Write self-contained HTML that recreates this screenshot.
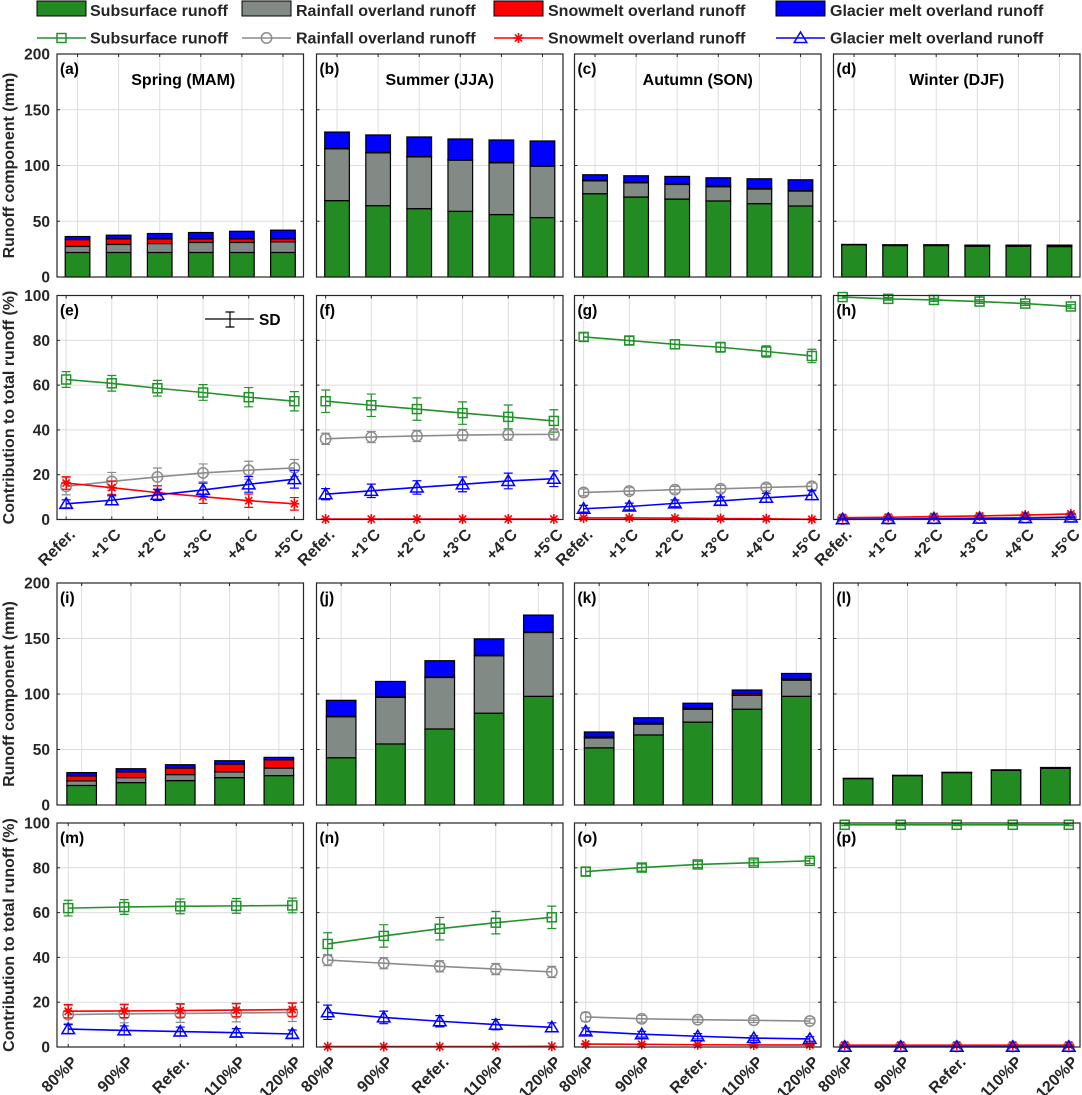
<!DOCTYPE html>
<html><head><meta charset="utf-8"><style>
html,body{margin:0;padding:0;background:#fff;}
svg{display:block;font-family:"Liberation Sans",Arial,sans-serif;font-weight:bold;}
</style></head><body>
<svg id="fig" width="1082" height="1095" viewBox="0 0 1082 1095" xmlns="http://www.w3.org/2000/svg">
<g id="legend">
  <g><rect x="37" y="1" width="49" height="15" fill="#228B22" stroke="#000" stroke-width="1"/><text x="90" y="16" font-size="16" fill="#262626">Subsurface runoff</text></g>
  <g><rect x="242" y="1" width="49" height="15" fill="#828A86" stroke="#000" stroke-width="1"/><text x="296" y="16" font-size="16" fill="#262626">Rainfall overland runoff</text></g>
  <g><rect x="494" y="1" width="49" height="15" fill="#ff0000" stroke="#000" stroke-width="1"/><text x="548" y="16" font-size="16" fill="#262626">Snowmelt overland runoff</text></g>
  <g><rect x="776" y="1" width="49" height="15" fill="#0000ff" stroke="#000" stroke-width="1"/><text x="830" y="16" font-size="16" fill="#262626">Glacier melt overland runoff</text></g>
</g>
<g id="legend2"></g>
<g id="plots"></g>
</svg>
<script>
// ---- categories ----
const tempCats = ['Refer.','+1°C','+2°C','+3°C','+4°C','+5°C'];
const precCats = ['80%P','90%P','Refer.','110%P','120%P'];
const barTicks = [0,50,100,150,200];
const pctTicks = [0,20,40,60,80,100];
const seasonTitles = ['Spring (MAM)','Summer (JJA)','Autumn (SON)','Winter (DJF)'];

// ---- bar data (mm): temperature scenarios ----
const aSub=[22,22,22,22,22,22], aRain=[5.4,7.2,8,9,9,9.5], aSnow=[6.2,5,4.2,3.2,3.2,2.7], aGlac=[2.7,3.3,4.8,5.7,6.8,7.8];
const bSub=[68.5,64,61.3,58.9,56,53.3], bRain=[46.4,47.3,46.4,45.9,46.4,46.1], bSnow=[0.4,0.4,0.4,0.4,0.4,0.4], bGlac=[14.7,15.7,17.5,18.6,20.1,22.2];
const cSub=[74.7,71.7,69.9,68.2,65.8,63.7], cRain=[11.6,12.8,13.1,12.8,13.1,13.4], cSnow=[0.8,0.8,0.8,0.7,0.6,0.5], cGlac=[4.6,5.5,6.4,7.3,8.6,9.6];
const dSub=[29,28.2,28.2,27.6,27.6,27.3], dRain=[0.1,0.3,0.3,0.4,0.4,0.5], dSnow=[0.1,0.3,0.3,0.5,0.5,0.6], dGlac=[0,0.1,0.1,0.1,0.1,0.2];
// ---- bar data (mm): precipitation scenarios ----
const iSub=[17.6,20.2,22,24.7,26.5], iRain=[4.1,4.5,5.4,5.1,6.8], iSnow=[4.5,5.1,5.9,7.1,7.5], iGlac=[3,2.9,3,3,2.1];
const jSub=[42.6,55,68.5,82.7,97.9], jRain=[36.9,42,46.4,51.8,57.5], jSnow=[0.4,0.4,0.4,0.4,0.4], jGlac=[14.4,13.9,14.7,14.8,15.3];
const kSub=[51.5,63.1,74.7,86.3,97.9], kRain=[8.9,9.8,11.6,12.5,14.6], kSnow=[0.8,0.8,1,1.5,1], kGlac=[4.6,4.9,4.4,3.3,5];
const lSub=[23.8,26.5,29.2,31.2,33], lRain=[0.1,0.1,0.1,0.2,0.3], lSnow=[0.1,0.1,0.1,0.3,0.4], lGlac=[0,0,0,0,0.1];

// ---- contribution (%) and SD: temperature ----
const eSub=[62.5,60.8,58.6,56.7,54.6,52.8], eSubSd=[3.5,3.5,3.5,3.5,4.3,4.3];
const eRain=[14.8,17,19,20.8,22,23], eRainSd=[3.8,4,4,4,4,3.8];
const eSnow=[16.3,14.2,12,10.2,8.4,7], eSnowSd=[2.8,3,3,3,3,2.8];
const eGlac=[7,8.6,11,13.2,15.7,18], eGlacSd=[1.8,2,2.5,3,3.5,4];
const fSub=[52.8,51,49.3,47.5,45.8,44], fSubSd=[5,5,5,5,5.3,5];
const fRain=[36,36.8,37.3,37.7,37.9,38], fRainSd=[2.5,2.5,2.5,2.5,2.5,2.5];
const fSnow=[0.2,0.2,0.2,0.2,0.2,0.2], fSnowSd=[0,0,0,0,0,0];
const fGlac=[11.3,12.8,14.3,15.7,17.2,18.2], fGlacSd=[2.5,3,3,3.3,3.5,3.5];
const gSub=[81.5,79.9,78.2,76.9,75,73], gSubSd=[1.8,1.8,2,2.2,2.5,3];
const gRain=[12.1,12.7,13.3,13.7,14.3,14.8], gRainSd=[1.5,1.5,1.5,1.5,1.5,1.5];
const gSnow=[0.7,0.7,0.6,0.4,0.3,0.1], gSnowSd=[0.3,0.3,0.3,0.3,0.3,0.3];
const gGlac=[4.8,5.8,7.2,8.3,9.7,10.9], gGlacSd=[1.5,1.5,1.5,1.8,2,2];
const hSub=[99.3,98.5,98,97.3,96.4,95.1], hSubSd=[0.5,0.6,0.7,0.8,0.8,0.8];
const hRain=[0.2,0.3,0.5,0.7,0.9,1.2], hRainSd=[0.3,0.3,0.3,0.3,0.3,0.3];
const hSnow=[0.8,1,1.3,1.6,2,2.5], hSnowSd=[0.3,0.3,0.3,0.3,0.3,0.3];
const hGlac=[0.1,0.2,0.3,0.4,0.6,0.9], hGlacSd=[0.3,0.3,0.3,0.3,0.3,0.3];
// ---- contribution (%) and SD: precipitation ----
const mSub=[62,62.5,62.8,63,63.2], mSubSd=[3.5,3.3,3.3,3.3,3.3];
const mRain=[14.5,14.8,15,15.2,15.4], mRainSd=[4,4,4,4,4];
const mSnow=[16,16.1,16.3,16.5,16.7], mSnowSd=[3,3,3,3,3];
const mGlac=[8,7.4,6.9,6.4,5.8], mGlacSd=[2,2,2,1.8,1.8];
const nSub=[46,49.6,52.8,55.5,57.9], nSubSd=[5,5,5,5,5];
const nRain=[38.8,37.4,36,34.8,33.5], nRainSd=[2.5,2.5,2.5,2.5,2.5];
const nSnow=[0.2,0.2,0.2,0.2,0.3], nSnowSd=[0,0,0,0,0];
const nGlac=[15.5,13.2,11.5,10,8.8], nGlacSd=[3.2,2.8,2.5,2.3,2];
const oSub=[78.3,80.1,81.5,82.3,83.1], oSubSd=[1.8,1.6,1.4,1.2,1.2];
const oRain=[13.4,12.6,12.2,11.9,11.6], oRainSd=[2,1.5,1.2,1,1];
const oSnow=[1.3,1.2,1,0.9,0.9], oSnowSd=[0.3,0.3,0.3,0.3,0.3];
const oGlac=[7,5.7,4.8,4,3.6], oGlacSd=[1.5,1.3,1.2,1,1];
const pSub=[99.2,99.2,99.2,99.2,99.2], pSubSd=[0.4,0.4,0.4,0.4,0.4];
const pRain=[0.2,0.2,0.2,0.2,0.2], pRainSd=[0.2,0.2,0.2,0.2,0.2];
const pSnow=[0.8,0.8,0.8,0.8,0.8], pSnowSd=[0.2,0.2,0.2,0.2,0.2];
const pGlac=[0.1,0.1,0.1,0.1,0.1], pGlacSd=[0.2,0.2,0.2,0.2,0.2];

const NS='http://www.w3.org/2000/svg';
const COLS=[57,316.5,574.5,833.5], PW=246.5;
const ROWS=[[54,277],[295.5,519.5],[583,805],[823,1047]];
const BARC=['#228B22','#828A86','#ff0000','#0000ff'];
const LINEC=['#22922a','#8c8c8c','#ff0000','#0000ff'];
const TXT='#262626';
const plots=document.getElementById('plots');

function mk(tag,attrs,parent){const e=document.createElementNS(NS,tag);for(const k in attrs)e.setAttribute(k,attrs[k]);(parent||plots).appendChild(e);return e;}

function frame(g,x0,y0,y1,xs,yTicks,yScale,showY){
  xs.forEach(x=>{mk('line',{x1:x,x2:x,y1:y0,y2:y1,stroke:'#dedede','stroke-width':1},g);});
  yTicks.forEach(v=>{const y=yScale(v);mk('line',{x1:x0,x2:x0+PW,y1:y,y2:y,stroke:'#dedede','stroke-width':1},g);});
  xs.forEach(x=>{mk('line',{x1:x,x2:x,y1:y1,y2:y1-3,stroke:TXT,'stroke-width':1},g);mk('line',{x1:x,x2:x,y1:y0,y2:y0+3,stroke:TXT,'stroke-width':1},g);});
  yTicks.forEach(v=>{const y=yScale(v);mk('line',{x1:x0,x2:x0+3,y1:y,y2:y,stroke:TXT,'stroke-width':1},g);mk('line',{x1:x0+PW,x2:x0+PW-3,y1:y,y2:y,stroke:TXT,'stroke-width':1},g);
    if(showY){const t=mk('text',{x:x0-7,y:y+5.5,'text-anchor':'end','font-size':15.5,fill:TXT},g);t.textContent=v;
      
      }
  });
}
function border(g,x0,y0,y1){mk('rect',{x:x0,y:y0,width:PW,height:y1-y0,fill:'none',stroke:TXT,'stroke-width':1.2},g);}
function label(g,x0,y0,s){const t=mk('text',{x:x0+3,y:y0+20,'font-size':15.5,fill:'#000'},g);t.textContent=s;
  
  }

function barPanel(col,row,letter,cats,series,title){
  const x0=COLS[col],[y0,y1]=ROWS[row];
  const g=mk('g',{});
  
  
  const n=cats.length, step=PW/n;
  const xS=i=>x0+(i+0.5)*step;
  const yS=v=>y1-(v/200)*(y1-y0);
  const xs=cats.map((c,i)=>xS(i));
  frame(g,x0,y0,y1,xs,barTicks,yS,col===0);
  const bw=step*0.6;
  cats.forEach((c,i)=>{
    let base=0;
    series.forEach((s,k)=>{
      const v=s[i];
      const r=mk('rect',{x:xS(i)-bw/2,y:yS(base+v),width:bw,height:Math.max(0,yS(base)-yS(base+v)),fill:BARC[k],stroke:'#000','stroke-width':1.2},g);
      
      
      base+=v;
    });
  });
  border(g,x0,y0,y1);
  label(g,x0,y0,'('+letter+')');
  if(title){const t=mk('text',{x:x0+PW/2+(col===0?3:0),y:y0+31,'text-anchor':'middle','font-size':16,fill:'#000'},g);t.textContent=title;
    
    }
}

function marker(g,type,x,y,c){
  if(type===0) mk('rect',{x:x-4.5,y:y-4.5,width:9,height:9,fill:'none',stroke:c,'stroke-width':1.5},g);
  else if(type===1) mk('circle',{cx:x,cy:y,r:5.2,fill:'none',stroke:c,'stroke-width':1.5},g);
  else if(type===2){const d=5;['M'+(x-d)+' '+y+'H'+(x+d),'M'+x+' '+(y-d)+'V'+(y+d),'M'+(x-3.6)+' '+(y-3.6)+'L'+(x+3.6)+' '+(y+3.6),'M'+(x-3.6)+' '+(y+3.6)+'L'+(x+3.6)+' '+(y-3.6)].forEach(p=>mk('path',{d:p,stroke:c,'stroke-width':1.6,fill:'none'},g));}
  else mk('path',{d:'M'+x+' '+(y-6)+'L'+(x+6.3)+' '+(y+4.5)+'L'+(x-6.3)+' '+(y+4.5)+'Z',fill:'none',stroke:c,'stroke-width':1.5},g);
}

function linePanel(col,row,letter,cats,vals,sds){
  const x0=COLS[col],[y0,y1]=ROWS[row];
  const g=mk('g',{});
  
  
  const n=cats.length, pad=0.2, step=PW/(n-1+2*pad);
  const xS=i=>x0+(i+pad)*step;
  const yS=v=>y1-(v/100)*(y1-y0);
  const xs=cats.map((c,i)=>xS(i));
  frame(g,x0,y0,y1,xs,pctTicks,yS,col===0);
  vals.forEach((s,k)=>{
    const sg=mk('g',{},g);
    
    
    const c=LINEC[k];
    mk('polyline',{points:s.map((v,i)=>xS(i)+','+yS(v)).join(' '),fill:'none',stroke:c,'stroke-width':1.6},sg);
    s.forEach((v,i)=>{
      const sd=sds[k][i];
      if(sd>0){const x=xS(i),ya=yS(v+sd),yb=yS(v-sd);
        mk('path',{d:'M'+x+' '+ya+'V'+yb+'M'+(x-4.5)+' '+ya+'H'+(x+4.5)+'M'+(x-4.5)+' '+yb+'H'+(x+4.5),stroke:c,'stroke-width':1.2,fill:'none'},sg);}
      marker(sg,k,xS(i),yS(v),c);
    });
  });
  border(g,x0,y0,y1);
  label(g,x0,y0,'('+letter+')');
  cats.forEach((c,i)=>{
    const t=mk('text',{transform:'translate('+(xS(i)+10)+','+(y1+16)+') rotate(-45)','text-anchor':'end','font-size':16,fill:TXT},g);
    t.textContent=c;
    
    
  });
}

barPanel(0,0,'a',tempCats,[aSub,aRain,aSnow,aGlac],seasonTitles[0]);
barPanel(1,0,'b',tempCats,[bSub,bRain,bSnow,bGlac],seasonTitles[1]);
barPanel(2,0,'c',tempCats,[cSub,cRain,cSnow,cGlac],seasonTitles[2]);
barPanel(3,0,'d',tempCats,[dSub,dRain,dSnow,dGlac],seasonTitles[3]);
linePanel(0,1,'e',tempCats,[eSub,eRain,eSnow,eGlac],[eSubSd,eRainSd,eSnowSd,eGlacSd]);
linePanel(1,1,'f',tempCats,[fSub,fRain,fSnow,fGlac],[fSubSd,fRainSd,fSnowSd,fGlacSd]);
linePanel(2,1,'g',tempCats,[gSub,gRain,gSnow,gGlac],[gSubSd,gRainSd,gSnowSd,gGlacSd]);
linePanel(3,1,'h',tempCats,[hSub,hRain,hSnow,hGlac],[hSubSd,hRainSd,hSnowSd,hGlacSd]);
barPanel(0,2,'i',precCats,[iSub,iRain,iSnow,iGlac]);
barPanel(1,2,'j',precCats,[jSub,jRain,jSnow,jGlac]);
barPanel(2,2,'k',precCats,[kSub,kRain,kSnow,kGlac]);
barPanel(3,2,'l',precCats,[lSub,lRain,lSnow,lGlac]);
linePanel(0,3,'m',precCats,[mSub,mRain,mSnow,mGlac],[mSubSd,mRainSd,mSnowSd,mGlacSd]);
linePanel(1,3,'n',precCats,[nSub,nRain,nSnow,nGlac],[nSubSd,nRainSd,nSnowSd,nGlacSd]);
linePanel(2,3,'o',precCats,[oSub,oRain,oSnow,oGlac],[oSubSd,oRainSd,oSnowSd,oGlacSd]);
linePanel(3,3,'p',precCats,[pSub,pRain,pSnow,pGlac],[pSubSd,pRainSd,pSnowSd,pGlacSd]);

(function(){
  const g=mk('g',{});
  
  
  mk('path',{d:'M205 319H254M230 312V327M225.5 312H234.5M225.5 327H234.5',stroke:'#000','stroke-width':1.2,fill:'none'},g);
  const t=mk('text',{x:259,y:325,'font-size':15.5,fill:'#000'},g);t.textContent='SD';
})();

[['Runoff component (mm)',0],['Contribution to total runoff (%)',1],['Runoff component (mm)',2],['Contribution to total runoff (%)',3]].forEach(([s,r])=>{
  const cy=(ROWS[r][0]+ROWS[r][1])/2;
  const t=mk('text',{transform:'translate(14,'+cy+') rotate(-90)','text-anchor':'middle','font-size':16,fill:TXT});
  t.textContent=s;
  
  
});

(function(){
  const lg=document.getElementById('legend2');
  const items=[['Subsurface runoff',37,90],['Rainfall overland runoff',242,296],['Snowmelt overland runoff',494,548],['Glacier melt overland runoff',776,830]];
  items.forEach(([s,x,tx],k)=>{
    const g=mk('g',{},lg);
    
    
    mk('line',{x1:x,x2:x+49,y1:38,y2:38,stroke:LINEC[k],'stroke-width':1.6},g);
    marker(g,k,x+24.5,38,LINEC[k]);
    const t=mk('text',{x:tx,y:43.5,'font-size':16,fill:TXT},g);t.textContent=s;
  });
})();
</script>
</body></html>
